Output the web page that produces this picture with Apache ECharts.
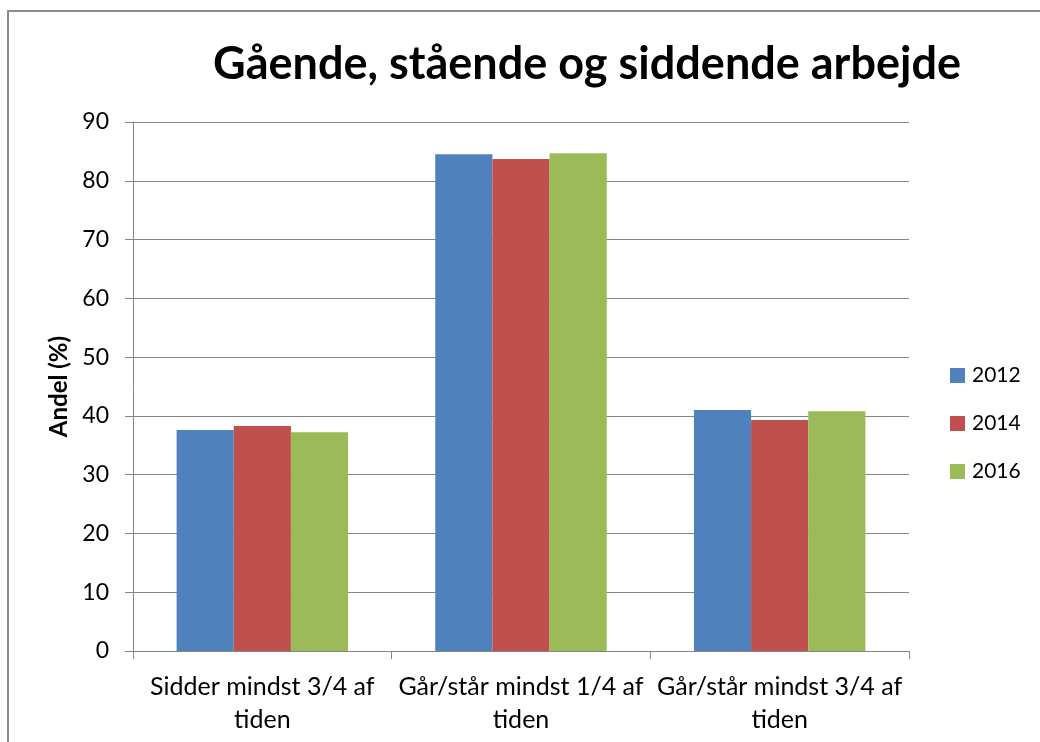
<!DOCTYPE html>
<html>
<head>
<meta charset="utf-8">
<script src="https://cdn.jsdelivr.net/npm/echarts@6/dist/echarts.min.js"></script>
<style>
  html, body { margin: 0; padding: 0; background: #fff; }
  #chart { width: 1040px; height: 742px; }
</style>
</head>
<body>
<div id="chart"></div>
<script>
  var categories = ['Sidder mindst 3/4 af\ntiden', 'Går/står mindst 1/4 af\ntiden', 'Går/står mindst 3/4 af\ntiden'];
  var years = ['2012', '2014', '2016'];
  var values2012 = [37.6, 84.5, 41.0];
  var values2014 = [38.3, 83.7, 39.3];
  var values2016 = [37.2, 84.7, 40.8];
  var colors = ['#4F81BD', '#C0504D', '#9BBB59'];

  var font = 'Lato';
  var myChart = echarts.init(document.getElementById('chart'));
  var allValues = [values2012, values2014, values2016];

  myChart.setOption({
    animation: false,
    color: colors,
    graphic: [{
      type: 'rect',
      shape: { x: 8, y: 11, width: 1100, height: 800 },
      style: { fill: 'none', stroke: '#8c8c8c', lineWidth: 2 },
      silent: true
    }, {
      type: 'text',
      x: 587,
      y: 64,
      style: {
        text: 'Gående, stående og siddende arbejde',
        fontFamily: font, fontWeight: 'bold', fontSize: 45, fill: '#000',
        align: 'center', verticalAlign: 'middle'
      },
      silent: true
    }],
    legend: {
      orient: 'vertical',
      left: 945,
      top: 360,
      itemWidth: 15,
      itemHeight: 15,
      itemGap: 27,
      icon: 'rect',
      textStyle: { fontFamily: font, fontSize: 21, color: '#000', padding: [0, 0, 0, 2] },
      data: years
    },
    grid: { left: 133, right: 131, top: 122, bottom: 91 },
    xAxis: {
      type: 'category',
      data: categories,
      axisLine: { lineStyle: { color: '#868686', width: 1 } },
      axisTick: { show: true, length: 8, lineStyle: { color: '#868686' } },
      axisLabel: { fontFamily: font, fontSize: 25, color: '#000', lineHeight: 33, margin: 19, interval: 0 }
    },
    yAxis: {
      type: 'value',
      min: 0,
      max: 90,
      interval: 10,
      name: 'Andel (%)',
      nameLocation: 'middle',
      nameGap: 60,
      nameTextStyle: { fontFamily: font, fontWeight: 'bold', fontSize: 24, color: '#000' },
      axisLine: { show: true, lineStyle: { color: '#868686', width: 1 } },
      axisTick: { show: true, length: 8, lineStyle: { color: '#868686' } },
      axisLabel: { fontFamily: font, fontSize: 23, color: '#000', margin: 24 },
      splitLine: { lineStyle: { color: '#868686', width: 1 } }
    },
    series: years.map(function (y, i) {
      return {
        name: y,
        type: 'bar',
        data: allValues[i],
        barGap: '0%',
        barCategoryGap: '33.7%'
      };
    })
  });
</script>
</body>
</html>
